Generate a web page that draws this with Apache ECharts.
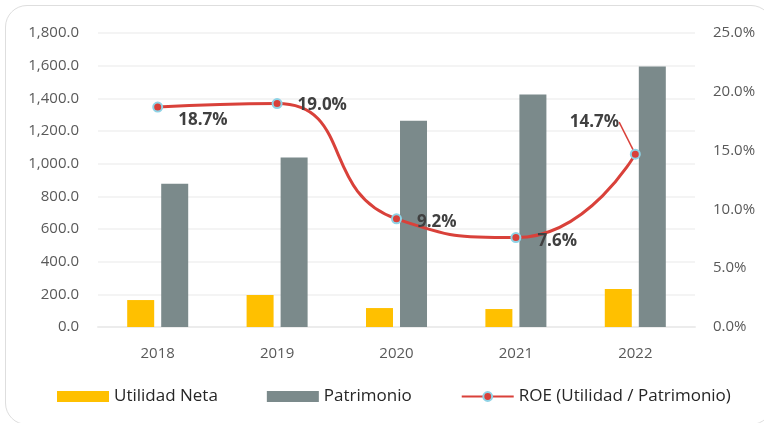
<!DOCTYPE html>
<html>
<head>
<meta charset="utf-8">
<script src="https://cdn.jsdelivr.net/npm/echarts@6/dist/echarts.min.js"></script>
<style>
html,body{margin:0;padding:0;background:#fff;overflow:hidden;}
#card{position:absolute;left:5px;top:5px;width:768px;height:420px;border:1.5px solid #dedede;border-radius:22px;box-sizing:border-box;}
#chart{position:absolute;left:0;top:0;width:764px;height:423px;}
</style>
</head>
<body>
<div id="card"></div>
<div id="chart"></div>
<script>
var categories = ['2018', '2019', '2020', '2021', '2022'];
var utilidadNeta = [165, 196, 116, 110, 232];
var patrimonio = [877, 1038, 1262, 1423, 1595];
var roe = [18.7, 19.0, 9.2, 7.6, 14.7];
var leftTicks = {min: 0, max: 1800, interval: 200};
var rightTicks = {min: 0, max: 25, interval: 5};

var FONT = '"Open Sans", sans-serif';
var labelShifts = [[10, 13], [10, 2], [10, 3], [11, 4], [-76, -32]];

var roeData = roe.map(function (v, i) {
  return {value: v, labelLine: {show: i === roe.length - 1}};
});

var chart = echarts.init(document.getElementById('chart'));
chart.setOption({
  animation: false,
  textStyle: {fontFamily: FONT},
  grid: {left: 98, right: 69, top: 33, bottom: 96, containLabel: false},
  legend: {
    bottom: 13, left: 52,
    itemWidth: 52, itemHeight: 11, itemGap: 49,
    textStyle: {fontSize: 17, color: '#262626', fontFamily: FONT},
    data: [
      {name: 'Utilidad Neta', icon: 'rect'},
      {name: 'Patrimonio', icon: 'rect'},
      {name: 'ROE (Utilidad / Patrimonio)'}
    ]
  },
  xAxis: {
    type: 'category',
    data: categories,
    axisLine: {lineStyle: {color: '#ececec', width: 2}},
    axisTick: {show: false},
    axisLabel: {color: '#595959', fontSize: 15, margin: 19, fontFamily: FONT}
  },
  yAxis: [
    {
      type: 'value', min: leftTicks.min, max: leftTicks.max, interval: leftTicks.interval,
      axisLabel: {
        color: '#595959', fontSize: 15, margin: 19, fontFamily: FONT,
        formatter: function (v) { return v.toLocaleString('en-US', {minimumFractionDigits: 1, maximumFractionDigits: 1}); }
      },
      splitLine: {lineStyle: {color: '#f0f0f0', width: 1.5}},
      axisLine: {show: false}, axisTick: {show: false}
    },
    {
      type: 'value', min: rightTicks.min, max: rightTicks.max, interval: rightTicks.interval,
      position: 'right',
      axisLabel: {
        color: '#595959', fontSize: 15, margin: 18, fontFamily: FONT,
        formatter: function (v) { return v.toFixed(1) + '%'; }
      },
      splitLine: {show: false},
      axisLine: {show: false}, axisTick: {show: false}
    }
  ],
  series: [
    {
      name: 'Utilidad Neta', type: 'bar', data: utilidadNeta,
      barWidth: 27, barGap: '26%',
      itemStyle: {color: '#ffc000'}
    },
    {
      name: 'Patrimonio', type: 'bar', data: patrimonio,
      barWidth: 27,
      itemStyle: {color: '#7b8a8b'}
    },
    {
      name: 'ROE (Utilidad / Patrimonio)', type: 'line', yAxisIndex: 1,
      data: roeData, smooth: 0.55,
      symbol: 'circle', symbolSize: 9,
      lineStyle: {color: '#d9413a', width: 3},
      itemStyle: {color: '#d9413a', borderColor: '#8fd3e6', borderWidth: 2},
      label: {
        show: true, position: 'right', fontSize: 17, fontWeight: 'bold', color: '#404040',
        fontFamily: FONT,
        formatter: function (p) { return p.value.toFixed(1) + '%'; }
      },
      labelLine: {show: false, lineStyle: {color: '#d9413a', width: 1.5}},
      labelLayout: function (params) {
        var s = labelShifts[params.dataIndex];
        return {dx: s[0], dy: s[1]};
      }
    }
  ]
});
</script>
</body>
</html>
